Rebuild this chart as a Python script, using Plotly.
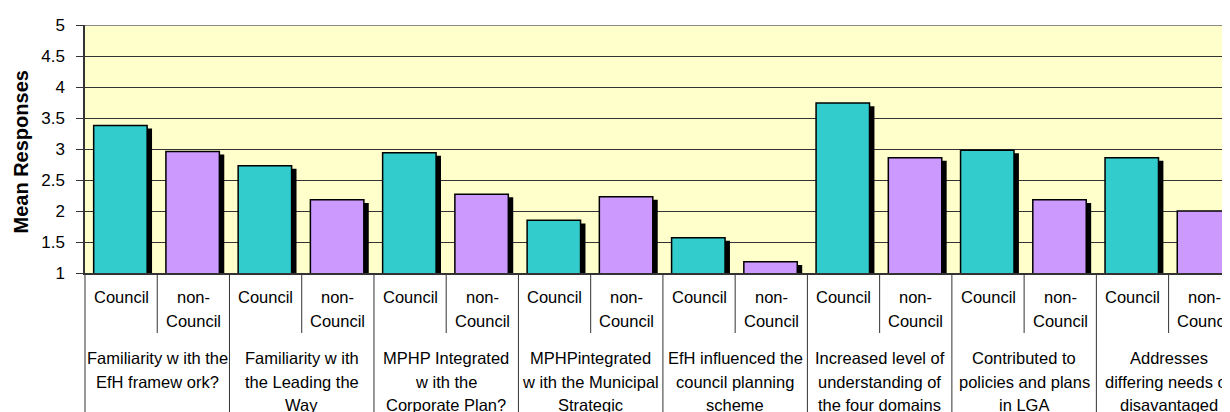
import plotly.graph_objects as go

# Données
GROUPS = [
    ["Familiarity w ith the", "EfH framew ork?"],
    ["Familiarity w ith", "the Leading the", "Way"],
    ["MPHP Integrated", "w ith the", "Corporate Plan?"],
    ["MPHPintegrated", "w ith the Municipal", "Strategic"],
    ["EfH influenced the", "council planning", "scheme"],
    ["Increased level of", "understanding of", "the four domains"],
    ["Contributed to", "policies and plans", "in LGA"],
    ["Addresses", "differing needs of", "disavantaged"],
]
SUB_LABELS = [["Council"], ["non-", "Council"]]
COUNCIL = [3.38, 2.73, 2.94, 1.85, 1.57, 3.74, 2.98, 2.86]
NON_COUNCIL = [2.96, 2.18, 2.27, 2.23, 1.18, 2.86, 2.18, 2.00]
Y_TITLE = "Mean Responses"

# Palette
TEAL = "#33CCCC"
LILAC = "#CC99FF"
PLOT_BG = "#FFFFCC"
DARK = "#333333"
FONT = "Arial, Liberation Sans, sans-serif"

BAR_W = 0.74
SHADOW_DX = 0.068
SHADOW_DY = 0.05

values, colors = [], []
for c, n in zip(COUNCIL, NON_COUNCIL):
    values += [c, n]
    colors += [TEAL, LILAC]
xs = list(range(len(values)))

fig = go.Figure()
fig.add_trace(go.Bar(
    x=xs, y=[v - SHADOW_DY for v in values],
    width=BAR_W, offset=-0.38 + SHADOW_DX,
    marker_color="black", marker_line_width=0, hoverinfo="skip",
))
fig.add_trace(go.Bar(
    x=xs, y=values, width=BAR_W, offset=-0.38,
    marker_color=colors, marker_line_color="black", marker_line_width=1.5,
))


def py(pix):
    # pixel vertical -> coordonnée paper (zone de tracé de 25 à 273 px)
    return (273 - pix) / 248


annotations = []
# libellés niveau 1 (Council / non-Council)
for i in xs:
    for k, line in enumerate(SUB_LABELS[i % 2]):
        annotations.append(dict(
            x=i, y=py(297 + 24 * k), xref="x", yref="paper", text=line,
            showarrow=False, xanchor="center", yanchor="middle",
            font=dict(size=16.5, color="black"),
        ))
# libellés niveau 2 (questions)
for g, lines in enumerate(GROUPS):
    for k, line in enumerate(lines):
        annotations.append(dict(
            x=2 * g + 0.5, y=py(358 + 23.5 * k), xref="x", yref="paper",
            text=line, showarrow=False, xanchor="center", yanchor="middle",
            font=dict(size=16.5, color="black"),
        ))
annotations.append(dict(
    x=-(85 - 20.5) / 1145, y=py(152), xref="paper", yref="paper",
    text=f"<b>{Y_TITLE}</b>", textangle=-90, showarrow=False,
    xanchor="center", yanchor="middle", font=dict(size=20, color="black"),
))

# séparateurs de catégories
shapes = [dict(type="line", xref="paper", yref="paper", x0=0, x1=0,
               y0=0, y1=-0.6, line=dict(color=DARK, width=1))]
for i in xs[:-1]:
    inner = i % 2 == 0
    shapes.append(dict(
        type="line", xref="x", yref="paper", x0=i + 0.5, x1=i + 0.5,
        y0=0, y1=py(333) if inner else -0.6,
        line=dict(color=DARK, width=1),
    ))
shapes.append(dict(type="line", xref="paper", yref="y", x0=0, x1=1,
                   y0=5, y1=5, layer="between",
                   line=dict(color="#8a8a8a", width=2)))

# la page a une marge de 8 px : la figure est réduite d'autant
fig.update_layout(
    width=1222, height=404,
    margin=dict(l=77, r=0, t=17, b=139),
    barmode="overlay", showlegend=False,
    plot_bgcolor=PLOT_BG, paper_bgcolor="white",
    font=dict(family=FONT, size=16, color="black"),
    annotations=annotations, shapes=shapes,
)
fig.update_xaxes(
    range=[-0.5, len(values) - 0.65], showticklabels=False, showgrid=False,
    zeroline=False, showline=True, linecolor=DARK, linewidth=1.5,
)
fig.update_yaxes(
    range=[1, 5], dtick=0.5, ticks="outside", ticklen=7, tickcolor=DARK,
    ticklabelstandoff=8, showline=True, linecolor=DARK, linewidth=1.5,
    gridcolor=DARK, gridwidth=1, zeroline=False, tickfont=dict(size=17),
)

fig.write_html("out.html")
